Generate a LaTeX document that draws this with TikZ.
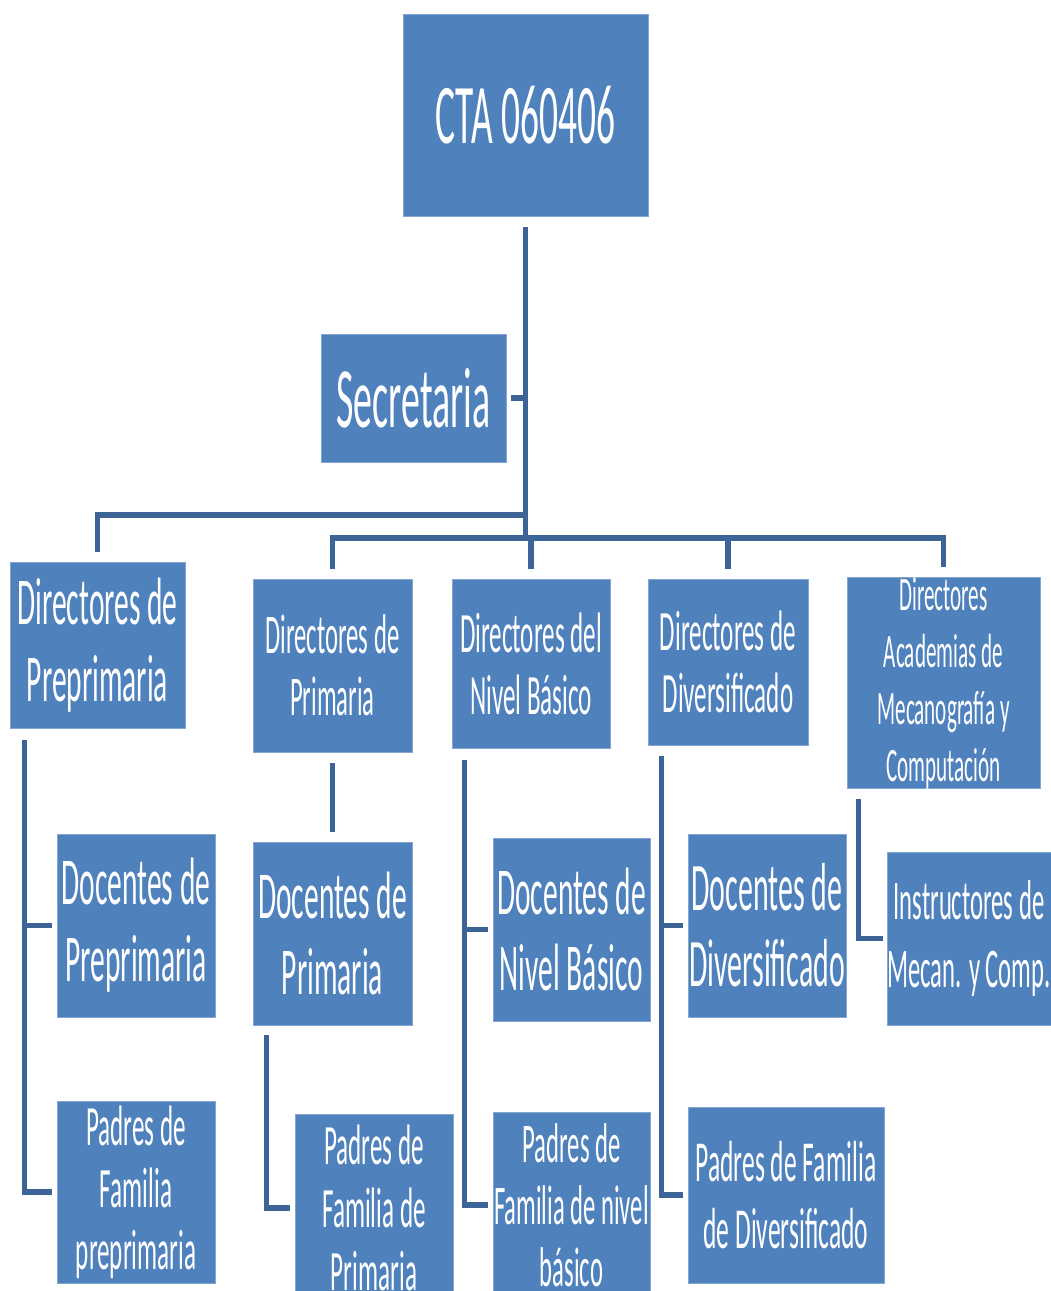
\documentclass[tikz,border=0pt]{standalone}
\usepackage{fontspec}
\setmainfont{Carlito}[FakeStretch=0.44]
\definecolor{boxblue}{RGB}{79,129,189}
\definecolor{lineblue}{RGB}{60,100,150}
\tikzset{
  orgnode/.style={fill=boxblue, draw=boxblue!70!white, line width=0.8pt, text=white, inner sep=0pt, align=center},
  conn/.style={draw=lineblue, line width=5.5pt, line cap=butt, line join=miter}
}
\newcommand\orgbox[8]{%
  \node[orgnode, minimum width={#4pt-#2pt}, minimum height={#5pt-#3pt},
        font=\fontsize{#6}{#7}\selectfont] (#1) at ({(#2+#4)/2},{(#3+#5)/2}) {#8};}
\begin{document}
\begin{tikzpicture}[x=1pt,y=-1pt]
\clip (0,0) rectangle (1051,1291);
\fill[white] (0,0) rectangle (1051,1291);
% level 0-1
\orgbox{cta}{403}{14}{648}{216}{85}{96}{CTA 060406}
\orgbox{secr}{321}{334}{506}{462}{86}{96}{Secretaria}
% level 2
\orgbox{dpre}{10}{562}{185}{728}{67}{77}{Directores de\\Preprimaria}
\orgbox{dprim}{253}{579}{412}{752}{56}{62}{Directores de\\Primaria}
\orgbox{dbas}{452}{579}{610}{748}{57}{62}{Directores del\\Nivel Básico}
\orgbox{ddiv}{648}{579}{808}{745}{57}{62}{Directores de\\Diversificado}
\orgbox{dacad}{847}{579}{1040}{787}{48}{57}{Directores\\Academias de\\Mecanografía y\\Computación}
% level 3
\orgbox{docpre}{57}{834}{215}{1017}{67}{77}{Docentes de\\Preprimaria}
\orgbox{padpre}{57}{1101}{215}{1283}{57}{62}{Padres de\\Familia\\preprimaria}
\orgbox{docprim}{253}{842}{412}{1025}{67}{76}{Docentes de\\Primaria}
\orgbox{padprim}{295}{1114}{453}{1302}{57}{63}{Padres de\\Familia de\\Primaria}
\orgbox{docbas}{493}{838}{650}{1021}{67}{76}{Docentes de\\Nivel Básico}
\orgbox{padbas}{493}{1112}{650}{1298}{56}{62}{Padres de\\Familia de nivel\\básico}
\orgbox{docdiv}{688}{834}{846}{1017}{68}{76}{Docentes de\\Diversificado}
\orgbox{paddiv}{688}{1107}{884}{1283}{58}{67}{Padres de Familia\\de Diversificado}
\orgbox{instr}{887}{852}{1051}{1025}{56}{68}{Instructores de\\Mecan. y Comp.}

% trunk and buses
\coordinate (b1) at (526,515);
\coordinate (b2) at (526,538);
\draw[conn] ([yshift=-11pt]cta.south) -- (cta.south |- b2);
\draw[conn] ([xshift=5pt]secr.east) -- (secr.east -| cta.south);
\draw[conn] (b1) -| ([yshift=10pt]dpre.north);
\draw[conn] ([yshift=10pt]dprim.north) |- (b2 -| dacad.north) -- ([yshift=10pt]dacad.north);
\draw[conn] (b2 -| dbas.north) -- ([yshift=10pt]dbas.north);
\draw[conn] (b2 -| ddiv.north) -- ([yshift=10pt]ddiv.north);

% Preprimaria
\coordinate (vpre) at ([xshift=15pt,yshift=-12pt]dpre.south west);
\draw[conn] (vpre) |- ([xshift=-5pt]padpre.west);
\draw[conn] ([xshift=-5pt]docpre.west) -- (docpre.west -| vpre);
% Primaria
\draw[conn] ([yshift=-11pt]dprim.south) -- ([yshift=10pt]docprim.north);
\coordinate (vprim) at ([xshift=14pt,yshift=-10pt]docprim.south west);
\draw[conn] (vprim) |- ([xshift=-5pt]padprim.west);
% Basico
\coordinate (vbas) at ([xshift=13pt,yshift=-12pt]dbas.south west);
\draw[conn] (vbas) |- ([xshift=-5pt]padbas.west);
\draw[conn] ([xshift=-5pt]docbas.west) -- (docbas.west -| vbas);
% Diversificado
\coordinate (vdiv) at ([xshift=14pt,yshift=-11pt]ddiv.south west);
\draw[conn] (vdiv) |- ([xshift=-5pt]paddiv.west);
\draw[conn] ([xshift=-5pt]docdiv.west) -- (docdiv.west -| vdiv);
% Academias
\coordinate (vacad) at ([xshift=12pt,yshift=-10pt]dacad.south west);
\draw[conn] (vacad) |- ([xshift=-4pt]instr.west);
\end{tikzpicture}
\end{document}
